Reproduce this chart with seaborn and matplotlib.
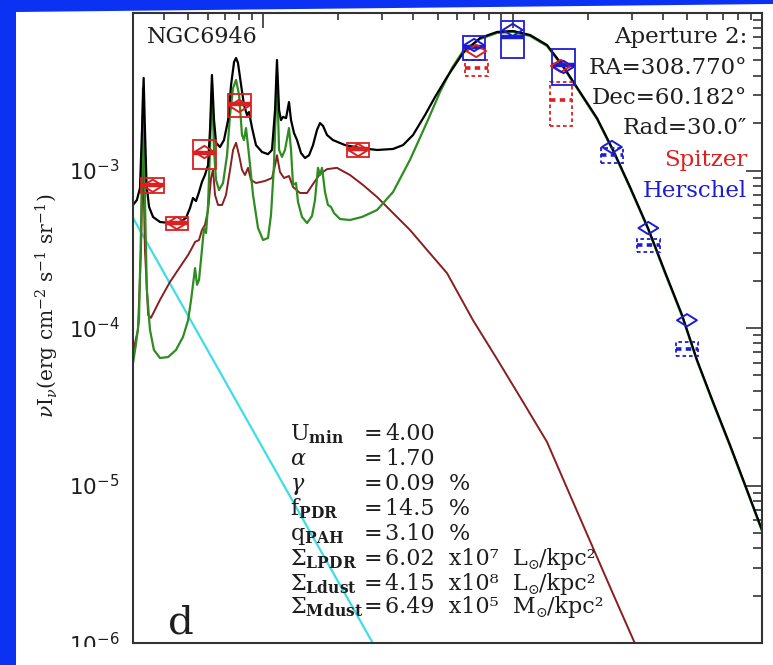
import numpy as np
import matplotlib
matplotlib.use("Agg")
import matplotlib.pyplot as plt
import seaborn as sns
from matplotlib.patches import Rectangle, Polygon
from matplotlib.path import Path
from matplotlib.ticker import LogLocator, NullFormatter, FixedLocator

sns.set_theme(style="white")
plt.rcParams['font.family'] = ['DejaVu Serif', 'DejaVu Sans']
plt.rcParams['mathtext.fontset'] = 'dejavuserif'

# ---------------- model spectra (wavelength in micron, nu*I_nu in erg cm^-2 s^-1 sr^-1)
total_wave = [3.00, 3.11, 3.20, 3.26, 3.31, 3.35, 3.40, 3.48, 3.61, 3.85, 4.22, 4.63, 4.89,
              5.08, 5.22, 5.37, 5.52, 5.67, 5.83, 6.00, 6.11, 6.22, 6.34, 6.46, 6.70, 6.95,
              7.22, 7.42, 7.63, 7.77, 7.91, 8.14, 8.36, 8.60, 8.76, 9.01, 9.34, 9.88, 10.44,
              10.83, 11.14, 11.34, 11.56, 11.77, 11.99, 12.33, 12.67, 12.91, 13.27, 13.65,
              14.16, 14.69, 15.25, 15.82, 16.41, 16.87, 17.35, 18.00, 19.02, 21.26, 24.42,
              28.57, 33.12, 36.33, 39.83, 44.51, 48.82, 54.53, 63.22, 73.96, 86.55, 100.3,
              117.4, 137.3, 159.2, 186.2, 217.9, 252.7, 295.6, 349.0, 408.3, 477.8, 548.8,
              636.3, 744.1, 871.0, 1000.0]
total_flux = [6.04e-4, 6.50e-4, 7.74e-4, 1.81e-3, 3.87e-3, 1.81e-3, 8.09e-4, 5.87e-4, 5.07e-4,
              4.71e-4, 4.64e-4, 4.71e-4, 4.99e-4, 5.78e-4, 6.69e-4, 6.40e-4, 7.30e-4, 8.45e-4,
              9.36e-4, 1.08e-3, 1.81e-3, 4.04e-3, 2.09e-3, 1.50e-3, 1.41e-3, 1.56e-3, 2.09e-3,
              3.49e-3, 4.89e-3, 5.18e-3, 4.82e-3, 3.49e-3, 2.61e-3, 2.25e-3, 2.35e-3, 1.86e-3,
              1.45e-3, 1.31e-3, 1.27e-3, 1.35e-3, 2.42e-3, 5.03e-3, 2.42e-3, 2.09e-3, 2.19e-3,
              2.15e-3, 2.72e-3, 2.09e-3, 1.73e-3, 1.56e-3, 1.29e-3, 1.20e-3, 1.25e-3, 1.45e-3,
              1.81e-3, 2.00e-3, 1.92e-3, 1.68e-3, 1.56e-3, 1.45e-3, 1.39e-3, 1.35e-3, 1.37e-3,
              1.45e-3, 1.68e-3, 2.25e-3, 2.93e-3, 3.92e-3, 5.57e-3, 6.94e-3, 7.58e-3, 7.69e-3,
              7.25e-3, 6.26e-3, 4.61e-3, 3.15e-3, 2.15e-3, 1.35e-3, 7.86e-4, 4.31e-4, 2.27e-4,
              1.21e-4, 6.26e-5, 3.39e-5, 1.81e-5, 9.36e-6, 5.22e-6]

diffuse_wave = [3.00, 3.08, 3.17, 3.23, 3.29, 3.35, 3.41, 3.51, 3.64, 3.85, 4.15, 4.46, 4.76,
                4.99, 5.13, 5.22, 5.32, 5.42, 5.52, 5.67, 5.78, 5.89, 6.00, 6.11, 6.22, 6.34,
                6.46, 6.64, 6.89, 7.15, 7.35, 7.56, 7.77, 7.99, 8.21, 8.36, 8.52, 8.76, 9.09,
                9.52, 9.97, 10.44, 10.73, 11.03, 11.34, 11.56, 11.88, 12.21, 12.67, 12.91,
                13.15, 13.52, 13.77, 14.29, 14.97, 15.67, 16.11, 16.56, 16.87, 17.19, 17.67,
                18.16, 18.67, 19.20, 20.29, 22.26, 24.87, 28.57, 33.12, 38.75, 45.34, 51.12,
                57.11, 63.22, 73.96, 86.55, 100.3, 117.4, 137.3, 159.2, 186.2, 217.9, 252.7,
                295.6, 349.0, 408.3, 477.8, 548.8, 636.3, 744.1, 871.0, 1000.0]
diffuse_flux = [6.00e-5, 7.80e-5, 1.12e-4, 4.19e-4, 3.34e-3, 6.50e-4, 1.74e-4, 9.71e-5, 7.25e-5,
                6.45e-5, 6.54e-5, 7.25e-5, 8.77e-5, 1.12e-4, 1.51e-4, 1.88e-4, 2.40e-4, 1.88e-4,
                2.02e-4, 3.13e-4, 4.31e-4, 4.01e-4, 6.04e-4, 1.35e-3, 3.49e-3, 1.35e-3, 8.70e-4,
                7.52e-4, 8.33e-4, 1.25e-3, 2.25e-3, 3.34e-3, 3.76e-3, 3.02e-3, 1.68e-3, 1.56e-3,
                1.86e-3, 1.25e-3, 6.99e-4, 4.31e-4, 3.62e-4, 3.73e-4, 5.22e-4, 1.08e-3, 4.04e-3,
                1.35e-3, 1.22e-3, 1.35e-3, 1.86e-3, 1.35e-3, 8.09e-4, 8.33e-4, 6.31e-4, 5.07e-4,
                4.64e-4, 5.14e-4, 6.50e-4, 1.04e-3, 9.36e-4, 1.04e-3, 7.30e-4, 6.04e-4, 5.87e-4,
                5.37e-4, 4.92e-4, 4.85e-4, 5.07e-4, 5.61e-4, 7.30e-4, 1.17e-3, 2.03e-3, 3.15e-3,
                4.48e-3, 5.74e-3, 6.84e-3, 7.47e-3, 7.58e-3, 7.15e-3, 6.17e-3, 4.54e-3, 3.11e-3,
                2.12e-3, 1.33e-3, 7.74e-4, 4.25e-4, 2.23e-4, 1.19e-4, 6.17e-5, 3.34e-5, 1.78e-5,
                9.23e-6, 5.14e-6]

pdr_wave = [3.00, 3.14, 3.23, 3.29, 3.35, 3.45, 3.54, 3.85, 4.22, 4.63, 4.99, 5.17, 5.32, 5.52,
            5.67, 5.83, 6.00, 6.17, 6.28, 6.40, 6.58, 6.83, 7.08, 7.35, 7.56, 7.77, 7.99, 8.21,
            8.44, 8.68, 8.92, 9.34, 10.15, 10.83, 11.14, 11.34, 11.66, 12.10, 12.67, 13.15,
            14.03, 14.97, 15.82, 16.87, 18.00, 19.73, 22.26, 25.10, 28.57, 33.12, 38.75, 45.34,
            54.53, 69.33, 86.55, 107.0, 137.3, 186.2, 252.7, 324.2]
pdr_flux = [7.04e-5, 9.71e-5, 3.13e-4, 1.35e-3, 3.13e-4, 1.21e-4, 1.16e-4, 1.51e-4, 1.96e-4,
            2.44e-4, 2.91e-4, 3.22e-4, 3.52e-4, 3.62e-4, 4.19e-4, 4.51e-4, 5.61e-4, 8.96e-4,
            1.01e-3, 6.99e-4, 6.04e-4, 6.04e-4, 6.99e-4, 1.01e-3, 1.35e-3, 1.50e-3, 1.25e-3,
            1.01e-3, 9.36e-4, 1.04e-3, 8.70e-4, 8.33e-4, 8.58e-4, 8.96e-4, 1.08e-3, 1.25e-3,
            9.78e-4, 8.96e-4, 9.23e-4, 7.86e-4, 7.20e-4, 7.20e-4, 8.21e-4, 9.50e-4, 1.02e-3,
            1.04e-3, 9.36e-4, 8.09e-4, 6.79e-4, 5.37e-4, 4.19e-4, 3.13e-4, 2.23e-4, 1.12e-4,
            6.35e-5, 3.65e-5, 1.89e-5, 6.22e-6, 2.05e-6, 8.39e-7]

stellar_wave = [3.0, 30.0]
stellar_flux = [5.0e-4, 7.8e-7]

# ---------------- photometry
spitzer_wave = [3.6, 4.5, 5.8, 8.0, 24.0, 71.4, 156.0]
spitzer_obs = [8.09e-4, 4.64e-4, 1.29e-3, 2.63e-3, 1.36e-3, 4.50e-3, 2.79e-3]
spitzer_err = [8.8e-5, 4.4e-5, 2.75e-4, 4.4e-4, 1.35e-4, 5.2e-4, 8.7e-4]
spitzer_model = [8.0e-4, 4.64e-4, 1.31e-3, 2.57e-3, 1.35e-3, 5.74e-3, 4.61e-3]
spitzer_used = [True, True, True, True, True, False, False]

herschel_wave = [70.0, 100.0, 160.0, 250.0, 350.0, 500.0]
herschel_obs = [6.08e-3, 7.04e-3, 4.70e-3, 1.255e-3, 3.355e-4, 7.40e-5]
herschel_err = [1.055e-3, 1.86e-3, 1.21e-3, 1.35e-4, 3.15e-5, 7.5e-6]
herschel_model = [6.26e-3, 7.80e-3, 4.54e-3, 1.41e-3, 4.31e-4, 1.12e-4]
herschel_used = [True, True, True, False, False, False]

band_halfwidth = 1.11   # multiplicative half-width of the band boxes

param_names = [r"$\mathrm{U}_{\mathbf{min}}$", r"$\alpha$", r"$\gamma$",
               r"$\mathrm{f}_{\mathbf{PDR}}$", r"$\mathrm{q}_{\mathbf{PAH}}$",
               r"$\Sigma_{\mathbf{LPDR}}$", r"$\Sigma_{\mathbf{Ldust}}$", r"$\Sigma_{\mathbf{Mdust}}$"]
param_values = ["4.00", "1.70", "0.09  %", "14.5  %", "3.10  %",
                "6.02  x10\u2077  L", "4.15  x10\u2078  L", "6.49  x10\u2075  M"]
param_units = ["", "", "", "", "", "/kpc\u00b2", "/kpc\u00b2", "/kpc\u00b2"]
info_lines = ["Aperture 2:", "RA=308.770\u00b0", "Dec=60.182\u00b0", "Rad=30.0\u2033"]

ytick_vals = [1e-6, 1e-5, 1e-4, 1e-3, 1e-2]
ytick_text = [r"$\mathsf{10^{-6}}$", r"$\mathsf{10^{-5}}$", r"$\mathsf{10^{-4}}$",
              r"$\mathsf{10^{-3}}$", ""]

# ---------------- styling
BG = "#0b31f2"
RED = "#dc1f1f"
BLUE = "#1c1cd2"
BROWN = "#8a1e1e"
GREEN = "#2f8c22"
CYAN = "#3fdde6"
SPINE = "#333333"
INK = "#1e1e1e"

W, H = 773, 665
fig = plt.figure(figsize=(W / 100, H / 100), dpi=100)
fig.patch.set_facecolor(BG)
renderer = fig.canvas.get_renderer()


def fpos(x, y):
    return x / W, 1 - y / H


# white page on the blue slide
fig.patches.append(Polygon([fpos(16, 665), fpos(16, 12), fpos(773, 4), fpos(773, 665)],
                           closed=True, transform=fig.transFigure,
                           facecolor="white", edgecolor="none", zorder=-5))

x0, y0 = fpos(133, 643)
ax = fig.add_axes([x0, y0, 629 / W, 630 / H])
ax.set_facecolor("white")
ax.set_xscale("log")
ax.set_yscale("log")

sns.lineplot(x=stellar_wave, y=stellar_flux, ax=ax, color=CYAN, lw=1.6,
             sort=False, estimator=None)
sns.lineplot(x=pdr_wave, y=pdr_flux, ax=ax, color=BROWN, lw=1.4,
             sort=False, estimator=None)
sns.lineplot(x=diffuse_wave, y=diffuse_flux, ax=ax, color=GREEN, lw=1.6,
             sort=False, estimator=None)
sns.lineplot(x=total_wave, y=total_flux, ax=ax, color="black", lw=1.6,
             sort=False, estimator=None)

diamond = Path([(-1, 0), (0, 0.62), (1, 0), (0, -0.62), (-1, 0)],
               [Path.MOVETO, Path.LINETO, Path.LINETO, Path.LINETO, Path.CLOSEPOLY])


def draw_bands(wave, obs, err, model, used, color):
    for w, o, e, u in zip(wave, obs, err, used):
        ls = "-" if u else (0, (2, 1.6))
        lo, hi = o - e, o + e
        wl, wr = w / band_halfwidth, w * band_halfwidth
        ax.add_patch(Rectangle((wl, lo), wr - wl, hi - lo, fill=False, ec=color,
                               lw=1.3, ls=ls, zorder=4))
        ax.hlines(o, wl, wr, color=color, lw=3.2 if u else 2.6,
                  linestyles="-" if u else (0, (1.5, 1.2)), zorder=4)
    ax.scatter(wave, model, marker=diamond, s=205, facecolors="none",
               edgecolors=color, linewidths=1.4, zorder=5)


draw_bands(spitzer_wave, spitzer_obs, spitzer_err, spitzer_model, spitzer_used, RED)
draw_bands(herschel_wave, herschel_obs, herschel_err, herschel_model, herschel_used, BLUE)

ax.set_xlim(3, 1000)
ax.set_ylim(1e-6, 1e-2)

ax.xaxis.set_major_locator(FixedLocator([10, 100, 1000]))
ax.xaxis.set_minor_locator(LogLocator(base=10, subs=np.arange(2, 10) * 1.0, numticks=20))
ax.xaxis.set_minor_formatter(NullFormatter())
ax.set_yticks(ytick_vals)
ax.set_yticklabels(ytick_text)
ax.yaxis.set_minor_locator(LogLocator(base=10, subs=np.arange(2, 10) * 1.0, numticks=20))
ax.yaxis.set_minor_formatter(NullFormatter())

ax.tick_params(which="both", direction="in", top=True, right=True, color=SPINE,
               width=1.2, labelbottom=False)
ax.tick_params(axis="x", which="major", length=10.8)
ax.tick_params(axis="x", which="minor", length=5.0)
ax.tick_params(axis="y", which="major", length=11.5, pad=9.5, labelsize=15.5,
               labelcolor=INK)
ax.tick_params(axis="y", which="minor", length=6.5)
for sp in ax.spines.values():
    sp.set_color(SPINE)
    sp.set_linewidth(1.5)
ax.set_xlabel("")
ax.set_ylabel("")

# axis title
fig.text(*fpos(47, 306), r"$\nu$I$_{\nu}$(erg cm$^{-2}$ s$^{-1}$ sr$^{-1}$)",
         rotation=90, ha="center", va="center", fontsize=14.5, color=INK)

# galaxy name and panel letter
fig.text(*fpos(147, 43), "NGC6946", ha="left", va="baseline", fontsize=16, color=INK)
fig.text(*fpos(168, 633), "d", ha="left", va="baseline", fontsize=29, color=INK)

# aperture info and instrument key
info_base = [43, 74, 104, 134]
for txt, yb in zip(info_lines, info_base):
    fig.text(*fpos(747, yb), txt, ha="right", va="baseline", fontsize=16.5, color=INK)
fig.text(*fpos(747, 166), "Spitzer", ha="right", va="baseline", fontsize=16.5, color=RED)
fig.text(*fpos(747, 197), "Herschel", ha="right", va="baseline", fontsize=16.5, color=BLUE)

# fit parameters
row_base = [440, 465, 490, 515, 540, 565, 590, 613]
for name, val, unit, yb in zip(param_names, param_values, param_units, row_base):
    fig.text(*fpos(290, yb), name, ha="left", va="baseline", fontsize=16, color=INK)
    fig.text(*fpos(364, yb), "=", ha="left", va="baseline", fontsize=16, color=INK)
    t = fig.text(*fpos(385, yb), val, ha="left", va="baseline", fontsize=16, color=INK)
    if unit:
        # solar symbol set as a lowered subscript, then the area unit
        x_end = t.get_window_extent(renderer).x1
        sun = fig.text(x_end / W, 1 - (yb + 4) / H, "\u2299", ha="left", va="baseline",
                       fontsize=10, color=INK)
        x_end = sun.get_window_extent(renderer).x1
        fig.text(x_end / W, 1 - yb / H, unit, ha="left", va="baseline", fontsize=16,
                 color=INK)

# the slide crops the page just below the frame
fig.patches.append(Rectangle(fpos(16, 665), (773 - 16) / W, (665 - 647) / H,
                             transform=fig.transFigure, facecolor="white",
                             edgecolor="none", zorder=5))

fig.savefig("out.png", dpi=100, facecolor=fig.get_facecolor())
